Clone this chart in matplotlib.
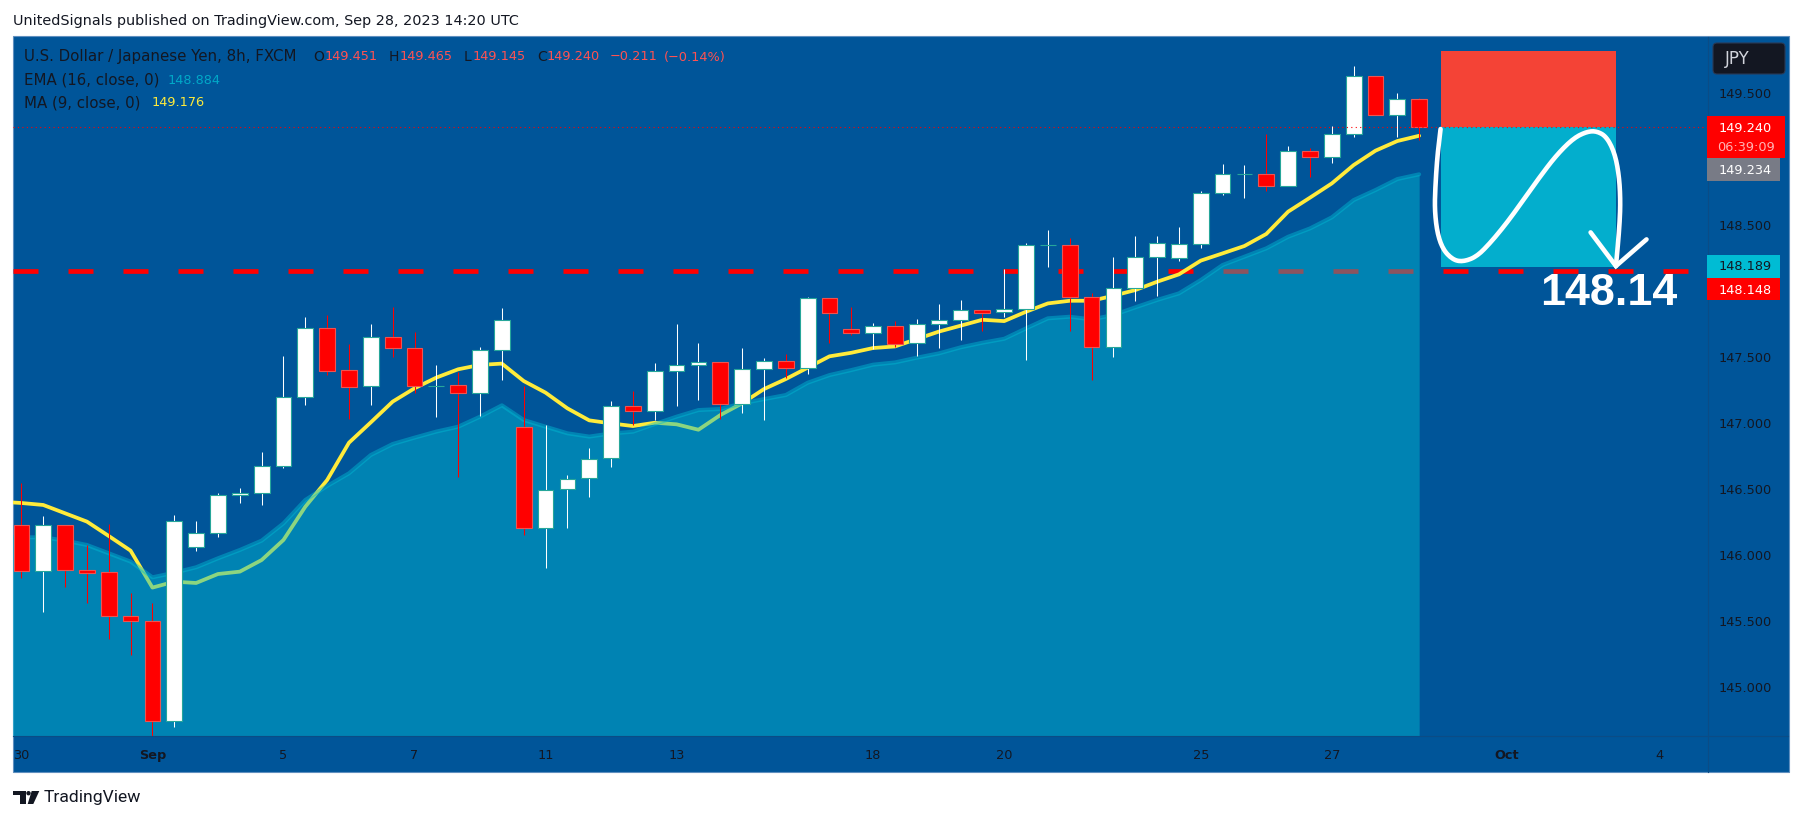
import numpy as np
import matplotlib
matplotlib.use('Agg')
import matplotlib.pyplot as plt
from matplotlib.patches import Rectangle, FancyBboxPatch, Polygon, Circle
from matplotlib.lines import Line2D
from matplotlib.transforms import Affine2D

# candle values, oldest first
opens = [146.225, 145.876, 146.225, 145.884, 145.869, 145.535, 145.497, 144.740, 146.058, 146.164,
         146.455, 146.467, 146.672, 147.195, 147.717, 147.399, 147.278, 147.649, 147.566, 147.283,
         147.286, 147.225, 147.551, 146.967, 146.202, 146.498, 146.581, 146.733, 147.128, 147.088,
         147.391, 147.437, 147.460, 147.141, 147.407, 147.467, 147.414, 147.944, 147.710, 147.679,
         147.732, 147.604, 147.747, 147.778, 147.854, 147.838, 147.861, 148.346, 148.346, 147.952,
         147.573, 148.020, 148.255, 148.247, 148.353, 148.740, 148.884, 148.884, 148.793, 149.058,
         149.017, 149.187, 149.626, 149.331, 149.451]
highs = [146.543, 146.296, 146.225, 146.076, 146.235, 145.709, 145.634, 146.303, 146.258, 146.472,
         146.510, 146.780, 147.508, 147.806, 147.818, 147.599, 147.750, 147.876, 147.690, 147.440,
         147.389, 147.578, 147.871, 147.280, 146.985, 146.606, 146.811, 147.167, 147.240, 147.455,
         147.750, 147.606, 147.460, 147.568, 147.492, 147.522, 147.954, 147.944, 147.876, 147.757,
         147.770, 147.788, 147.902, 147.932, 147.854, 148.167, 148.363, 148.462, 148.401, 147.982,
         148.260, 148.416, 148.416, 148.485, 148.755, 148.962, 148.954, 149.189, 149.098, 149.083,
         149.250, 149.704, 149.626, 149.500, 149.465]
lows = [145.828, 145.571, 145.760, 145.634, 145.361, 145.242, 144.631, 144.699, 146.033, 146.139,
        146.397, 146.381, 146.662, 147.139, 147.364, 147.028, 147.139, 147.503, 147.225, 147.048,
        146.594, 147.056, 147.326, 146.152, 145.904, 146.207, 146.442, 146.664, 146.985, 147.023,
        147.131, 147.174, 147.028, 147.078, 147.023, 147.338, 147.374, 147.603, 147.667, 147.561,
        147.576, 147.510, 147.571, 147.631, 147.697, 147.803, 147.477, 148.184, 147.697, 147.325,
        147.502, 147.926, 147.964, 148.230, 148.328, 148.730, 148.707, 148.757, 148.793, 148.866,
        148.972, 149.169, 149.331, 149.169, 149.145]
closes = [145.876, 146.225, 145.884, 145.866, 145.535, 145.497, 144.740, 146.255, 146.164, 146.452,
          146.467, 146.672, 147.195, 147.717, 147.397, 147.275, 147.649, 147.566, 147.283, 147.283,
          147.225, 147.551, 147.778, 146.202, 146.495, 146.578, 146.730, 147.126, 147.088, 147.391,
          147.437, 147.460, 147.141, 147.407, 147.467, 147.414, 147.944, 147.831, 147.679, 147.732,
          147.601, 147.747, 147.778, 147.854, 147.836, 147.861, 148.346, 148.346, 147.952, 147.573,
          148.020, 148.255, 148.361, 148.353, 148.740, 148.884, 148.884, 148.793, 149.058, 149.017,
          149.187, 149.626, 149.331, 149.452, 149.240]

# these two start one bar before the first candle
ma9 = [146.404, 146.394, 146.379, 146.316, 146.253, 146.144, 146.033, 145.753, 145.798, 145.788,
       145.856, 145.874, 145.962, 146.114, 146.366, 146.568, 146.851, 147.005, 147.162, 147.263,
       147.344, 147.407, 147.440, 147.450, 147.318, 147.230, 147.111, 147.020, 146.997, 146.977,
       147.002, 146.990, 146.949, 147.060, 147.149, 147.257, 147.333, 147.419, 147.505, 147.532,
       147.568, 147.580, 147.636, 147.692, 147.737, 147.782, 147.772, 147.843, 147.906, 147.926,
       147.926, 147.964, 148.007, 148.070, 148.126, 148.230, 148.285, 148.341, 148.432, 148.601,
       148.707, 148.815, 148.954, 149.063, 149.136, 149.176]
ema16 = [146.139, 146.134, 146.134, 146.109, 146.076, 146.013, 145.950, 145.831, 145.866, 145.907,
         145.975, 146.038, 146.109, 146.240, 146.417, 146.523, 146.619, 146.758, 146.841, 146.889,
         146.935, 146.972, 147.048, 147.134, 147.023, 146.972, 146.922, 146.897, 146.921, 146.934,
         146.992, 147.048, 147.098, 147.106, 147.149, 147.181, 147.212, 147.305, 147.363, 147.401,
         147.442, 147.459, 147.495, 147.527, 147.573, 147.608, 147.638, 147.717, 147.793, 147.805,
         147.785, 147.818, 147.876, 147.932, 147.982, 148.083, 148.197, 148.260, 148.323, 148.411,
         148.474, 148.558, 148.689, 148.765, 148.848, 148.884]

price_ticks = [145.0, 145.5, 146.0, 146.5, 147.0, 147.5, 148.5, 149.5]
date_ticks = [0, 6, 12, 18, 24, 30, 39, 45, 54, 60, 68, 75]
date_labels = ['30', 'Sep', '5', '7', '11', '13', '18', '20', '25', '27', 'Oct', '4']

support = 148.148
last_close = 149.240
risk_box_bars = [65, 73]
stop_price = 149.818
target_price = 148.184

# hand drawn swoosh on the trade box, in bars and prices
brush_bar = [64.98, 64.83, 64.74, 64.71, 64.83, 65.10, 65.56, 66.02, 66.63, 67.24, 68.00, 68.77,
             69.53, 70.29, 71.06, 71.67, 72.12, 72.58, 72.96, 73.16, 73.22, 73.16, 73.01]
brush_price = [149.227, 149.018, 148.790, 148.614, 148.437, 148.311, 148.235, 148.222, 148.260,
               148.361, 148.513, 148.689, 148.866, 149.030, 149.157, 149.207, 149.212, 149.169,
               149.043, 148.866, 148.664, 148.462, 148.189]
arrow_bar = [71.85, 73.01, 74.41]
arrow_price = [148.444, 148.189, 148.391]

W, H = 1803, 821
BG = '#005599'
DARK = '#131722'
RED = '#FF0000'
SOFT_RED = '#FF5252'
CYAN = '#00BCD4'
YELLOW = '#FFEB3B'
TEAL = '#26A69A'

fig = plt.figure(figsize=(W / 100, H / 100), dpi=100, facecolor='white')
# pixel coords measured from top left, for the things around the chart
PX = Affine2D().scale(1 / W, -1 / H).translate(0, 1) + fig.transFigure


def ptext(x, y, s, color=DARK, size=9.3, **kw):
    kw.setdefault('va', 'center')
    fig.text(x, y, s, color=color, fontsize=size, transform=PX, zorder=12, **kw)


def prect(x0, y0, x1, y1, color, z=10):
    fig.add_artist(Rectangle((x0, y0), x1 - x0, y1 - y0, fc=color, ec='none', transform=PX, zorder=z))


def chaikin(xs, ys, rounds=3):
    pts = np.column_stack([xs, ys])
    for _ in range(rounds):
        q = 0.75 * pts[:-1] + 0.25 * pts[1:]
        r = 0.25 * pts[:-1] + 0.75 * pts[1:]
        mid = np.empty((2 * len(q), 2))
        mid[0::2] = q
        mid[1::2] = r
        pts = np.vstack([pts[0], mid, pts[-1]])
    return pts[:, 0], pts[:, 1]


fig.add_artist(Rectangle((12.5, 36.5), 1776, 736, fc=BG, ec='#5F8FBF', lw=0.8, transform=PX, zorder=-5))

left, right, top, bottom = 13, 1707, 36, 736
ax = fig.add_axes([left / W, 1 - bottom / H, (right - left) / W, (bottom - top) / H])
ax.patch.set_visible(False)
for s in ax.spines.values():
    s.set_visible(False)
ax.set_xlim((left - 21.4) / 21.84, (right - 21.4) / 21.84)
ax.set_ylim(149.5 - (bottom - 93) / 132, 149.5 + (93 - top) / 132)

bars = np.arange(len(opens))
line_x = np.arange(-1, len(opens))

# levels under everything
ax.axhline(support, color=RED, lw=3.4, linestyle=(0, (18 / 3.4, 21.6 / 3.4)), zorder=1)
ax.plot(line_x, ma9, color=YELLOW, lw=2.7, solid_capstyle='round', solid_joinstyle='round', zorder=2)

# EMA area sits on top of the MA, that is why the MA goes green inside it
ax.fill_between(line_x, ema16, ax.get_ylim()[0], color=CYAN, alpha=0.45, lw=0, zorder=3)
ax.plot(line_x, ema16, color=CYAN, alpha=0.45, lw=2.9, solid_capstyle='round', zorder=3.5)

# trade box
ax.fill_between(risk_box_bars, last_close, stop_price, color='#F44336', lw=0, zorder=2)
ax.fill_between(risk_box_bars, target_price, last_close, color='#03AECD', lw=0, zorder=2)

# candles
o = np.array(opens)
c = np.array(closes)
up = c >= o
wick_col = ['white' if u else RED for u in up]
ax.vlines(bars, lows, highs, colors=wick_col, lw=0.75, zorder=4)
ax.bar(bars, np.abs(c - o), bottom=np.minimum(o, c), width=0.72,
       color=['white' if u else RED for u in up],
       edgecolor=[TEAL if u else '#EF5350' for u in up], linewidth=0.8, zorder=5)

ax.axhline(last_close, color=RED, lw=0.8, linestyle=(0, (1, 3)), zorder=6)

bx, by = chaikin(brush_bar, brush_price)
ax.plot(bx, by, color='white', lw=3.3, solid_capstyle='round', zorder=7)
ax.plot(arrow_bar, arrow_price, color='white', lw=3.3, solid_capstyle='round', solid_joinstyle='miter', zorder=7)

ax.text(69.55, support - 0.165, '148.14', color='white', fontsize=32.3, fontweight='bold',
        family='Liberation Sans', ha='left', va='center', zorder=8)

# axes
ax.yaxis.tick_right()
ax.set_yticks(price_ticks)
ax.set_yticklabels(['%.3f' % p for p in price_ticks], fontsize=9.3, color=DARK, ha='left')
ax.set_xticks(date_ticks)
ax.set_xticklabels(date_labels, fontsize=9.3, color=DARK)
ax.tick_params(axis='both', length=0)
ax.tick_params(axis='y', pad=8.5)
ax.tick_params(axis='x', pad=9.5)
for lab in ax.get_xticklabels():
    if lab.get_text() in ('Sep', 'Oct'):
        lab.set_fontweight('bold')

fig.add_artist(Line2D([1707.5, 1707.5], [37, 772], color='#0B4C86', lw=0.8, transform=PX, zorder=9))
fig.add_artist(Line2D([13, 1788], [736.5, 736.5], color='#0B4C86', lw=0.8, transform=PX, zorder=9))

# header and footer
ptext(13, 21, 'UnitedSignals published on TradingView.com, Sep 28, 2023 14:20 UTC', size=10.35)

ptext(24, 57, 'U.S. Dollar / Japanese Yen, 8h, FXCM', size=10.8)
for x, s in [(313, 'O'), (389, 'H'), (464, 'L'), (537, 'C')]:
    ptext(x, 57, s, size=10)
for x, s in [(325, '149.451'), (400, '149.465'), (473, '149.145'), (547, '149.240'),
             (610, '−0.211'), (664, '(−0.14%)')]:
    ptext(x, 57, s, color=SOFT_RED)
ptext(24, 80, 'EMA (16, close, 0)', size=10.8)
ptext(168, 80, '148.884', color='#00A8C8')
ptext(24, 103, 'MA (9, close, 0)', size=10.8)
ptext(152, 103, '149.176', color=YELLOW)

# price labels on the scale
fig.add_artist(FancyBboxPatch((1713, 43), 72, 31, boxstyle='round,pad=0,rounding_size=4',
                              fc=DARK, ec='#2A3A55', lw=0.8, transform=PX, zorder=10))
ptext(1725, 59, 'JPY', color='#D1D4DC', size=12)

prect(1707, 116, 1785, 158, RED)
ptext(1719, 129, '149.240', color='white')
ptext(1717, 147.5, '06:39:09', color='#FFB3B3')
prect(1707, 158, 1780, 181, '#787B86')
ptext(1719, 171, '149.234', color='white')
prect(1707, 255, 1780, 278, CYAN)
ptext(1719, 267, '148.189', color=DARK)
prect(1707, 278, 1780, 300, RED)
ptext(1719, 290, '148.148', color='white')

# logo
for pts in ([(13, 791), (25.7, 791), (25.7, 804), (19.5, 804), (19.5, 795.5), (13, 795.5)],
            [(31.7, 791), (39.3, 791), (33.3, 804), (27.7, 804)]):
    fig.add_artist(Polygon(pts, closed=True, fc=DARK, ec='none', transform=PX, zorder=11))
fig.add_artist(Circle((28.5, 793.2), 2.2, fc=DARK, ec='none', transform=PX, zorder=11))
ptext(44, 797.5, 'TradingView', size=12.6, family='Roboto')

fig.savefig('out.png', dpi=100, facecolor='white')
